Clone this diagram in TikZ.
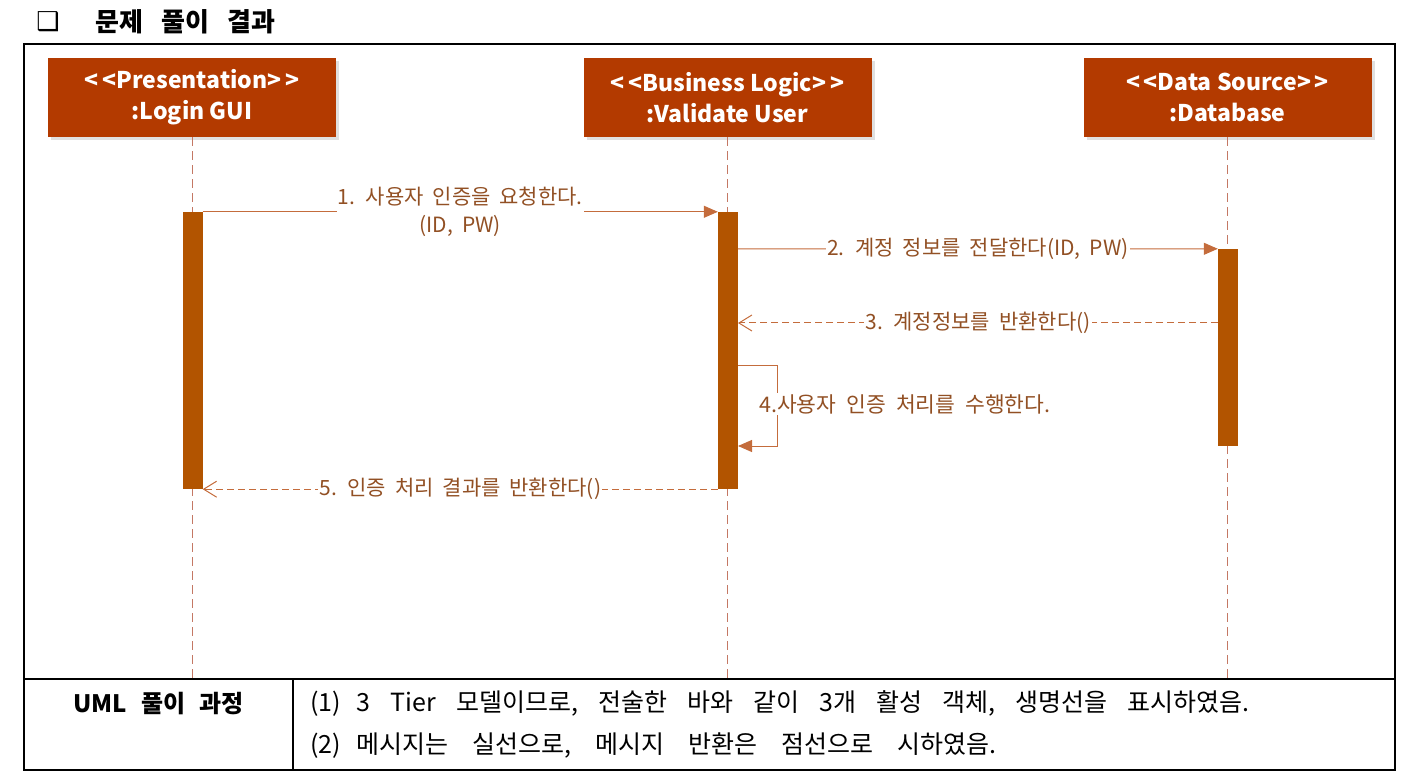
\documentclass[tikz,border=0pt]{standalone}
\usepackage{fontspec}
\setmainfont{Noto Sans CJK KR}[Ligatures=TeXOff]
\newfontfamily\symfont{DejaVu Sans}
\usetikzlibrary{arrows.meta,positioning}
\newcommand\wsp[1]{\spaceskip=#1\relax}

\definecolor{boxred}{RGB}{179,58,0}
\definecolor{actbrown}{RGB}{178,84,0}
\definecolor{msgcol}{RGB}{196,108,60}
\definecolor{lblcol}{RGB}{146,80,36}
\definecolor{lifecol}{RGB}{196,120,100}

\tikzset{
  objbox/.style={fill=boxred, text=white, minimum width=288, minimum height=79,
    inner sep=0pt, align=center, font=\fontsize{23}{31}\selectfont\bfseries},
  shadowbox/.style={fill=black!12, minimum width=288, minimum height=79, inner sep=0pt},
  actbar/.style={fill=actbrown, minimum width=20, inner sep=0pt},
  lifeline/.style={lifecol, line width=0.8pt, dash pattern=on 9pt off 5pt},
  msgline/.style={msgcol, line width=1pt, -{Triangle[length=14pt,width=12pt]}},
  retline/.style={msgcol, line width=1pt, dash pattern=on 7pt off 4pt,
    -{Straight Barb[length=13pt,width=16pt]}},
  lbl/.style={fill=white, text=lblcol, inner sep=1pt, align=center,
    font=\fontsize{21}{28}\selectfont},
  tabtxt/.style={anchor=west, inner sep=0pt, font=\fontsize{25}{27}\selectfont}
}

\begin{document}
\begin{tikzpicture}[x=1pt,y=-1pt]
  \useasboundingbox (0,0) rectangle (1405,775);

  %%%%% TITLE %%%%%
  \node (titleMark) at (48,22) {\symfont\fontsize{26}{26}\selectfont\bfseries ❑};
  \node[anchor=west, font=\fontsize{26}{26}\selectfont\bfseries] (titleTxt) at (92,22)
    {문제\hspace{18pt}풀이\hspace{18pt}결과};

  %%%%% FRAME %%%%%
  \draw[line width=1.5pt] (24,44) rectangle (1395,770);
  \draw[line width=1.2pt] (24,679) -- (1395,679);
  \draw[line width=1.2pt] (293,679) -- (293,770);

  %%%%% OBJECTS %%%%%
  \node[shadowbox] at (195,100.5) {};
  \node[shadowbox] at (730.5,100.5) {};
  \node[shadowbox] at (1230.5,100.5) {};
  \node[objbox] (objGUI) at (192,97.5) {<\,<Presentation>\,>\\:Login GUI};
  \node[objbox] (objVal) at (727.5,97.5) {<\,<Business Logic>\,>\\:Validate User};
  \node[objbox] (objDB) at (1227.5,97.5) {<\,<Data Source>\,>\\:Database};

  %%%%% LIFELINES %%%%%
  \coordinate (endGUI) at (192,679);
  \coordinate (endVal) at (727.5,679);
  \coordinate (endDB) at (1227.5,679);
  \draw[lifeline] (objGUI.south) -- (endGUI);
  \draw[lifeline] (objVal.south) -- (endVal);
  \draw[lifeline] (objDB.south) -- (endDB);

  %%%%% ACTIVATIONS %%%%%
  \node[actbar, minimum height=277] (actGUI) at (192.5,350.5) {};
  \node[actbar, minimum height=277] (actVal) at (728,350.5) {};
  \node[actbar, minimum height=197] (actDB) at (1228,347.5) {};

  %%%%% MESSAGES %%%%%
  \draw[msgline] (actGUI.north east) -- node[lbl] (lbl1)
    {\wsp{9pt}1. 사용자 인증을 요청한다.\\\wsp{9pt}(ID, PW)} (actVal.north west);

  \coordinate (m2from) at (738,249);
  \draw[msgline] (m2from) -- node[lbl] (lbl2)
    {\wsp{9pt}2. 계정 정보를 전달한다(ID, PW)} (actDB.north west);

  \coordinate (r3from) at (1218,323);
  \coordinate (r3to) at (738,323);
  \draw[retline] (r3from) -- node[lbl] (lbl3) {\wsp{9pt}3. 계정정보를 반환한다()} (r3to);

  \coordinate (s4from) at (738,366);
  \coordinate (s4to) at (738,446);
  \draw[msgline] (s4from) -- ++(39,0) |- (s4to);
  \node[lbl, anchor=west, font=\fontsize{21.5}{28}\selectfont] (lbl4) at (758,404)
    {\wsp{10pt}4.사용자 인증 처리를 수행한다.};

  \draw[retline] (actVal.south west) -- node[lbl] (lbl5)
    {\wsp{9pt}5. 인증 처리 결과를 반환한다()} (actGUI.south east);

  %%%%% TABLE %%%%%
  \node[font=\fontsize{24}{26}\selectfont\bfseries] (umlHead) at (158.5,704)
    {UML\hspace{14pt}풀이\hspace{14pt}과정};
  \node[tabtxt] (item1) at (310,704)
    {\wsp{20pt}(1)\hspace{16pt}3 Tier 모델이므로, 전술한 바와 같이 3개 활성 객체, 생명선을 표시하였음.};
  \node[tabtxt] (item2) at (310,746)
    {\wsp{24pt}(2)\hspace{16pt}메시지는 실선으로, 메시지 반환은 점선으로 시하였음.};
\end{tikzpicture}
\end{document}
